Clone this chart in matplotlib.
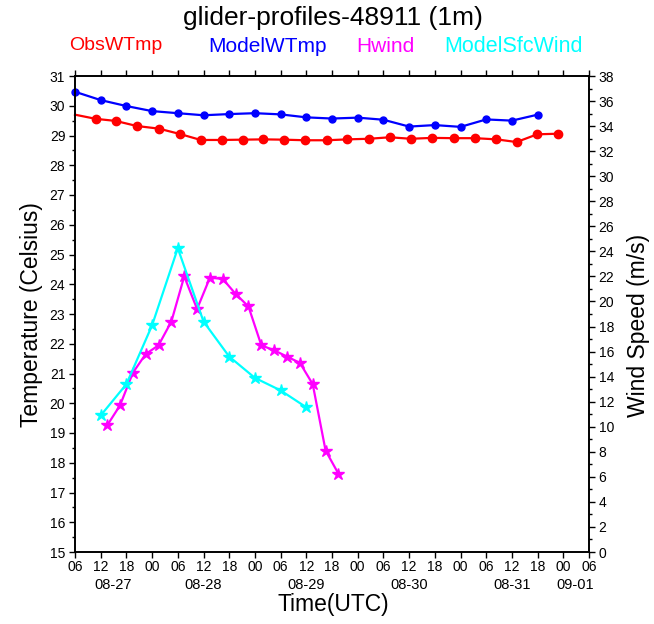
import numpy as np
import matplotlib.pyplot as plt
from matplotlib.transforms import blended_transform_factory

plt.rcParams['font.family'] = ['Liberation Sans', 'DejaVu Sans']

# x in hours since 08-27 06 UTC
obs_hours = [0.0, 4.83, 9.5, 14.4, 19.6, 24.5, 29.35, 34.25, 39.15, 43.95, 48.8, 53.7,
             58.8, 63.6, 68.6, 73.5, 78.4, 83.4, 88.4, 93.4, 98.4, 103.1, 107.9, 112.8]
obs_wtmp = [29.70, 29.56, 29.49, 29.32, 29.23, 29.05, 28.85, 28.85, 28.86, 28.87, 28.86, 28.84,
            28.84, 28.87, 28.89, 28.94, 28.89, 28.92, 28.91, 28.91, 28.87, 28.78, 29.04, 29.06]

model_hours = [0, 6, 12, 18, 24, 30, 36, 42, 48, 54, 60, 66, 72, 78, 84, 90, 96, 102, 108]
model_wtmp = [30.47, 30.19, 29.99, 29.82, 29.75, 29.68, 29.72, 29.75, 29.71, 29.61,
              29.57, 29.60, 29.53, 29.30, 29.35, 29.29, 29.54, 29.50, 29.70]

hwind_hours = [7.5, 10.5, 13.5, 16.5, 19.5, 22.5, 25.5, 28.5, 31.5, 34.5, 37.5, 40.5,
               43.5, 46.5, 49.5, 52.5, 55.5, 58.5, 61.5]
hwind = [10.1, 11.7, 14.3, 15.8, 16.5, 18.4, 22.0, 19.4, 21.9, 21.8, 20.6, 19.6,
         16.5, 16.1, 15.6, 15.1, 13.4, 8.1, 6.25]

sfc_hours = [6, 12, 18, 24, 30, 36, 42, 48, 54]
sfc_wind = [10.9, 13.4, 18.1, 24.25, 18.4, 15.6, 13.9, 12.9, 11.55]

tick_hours = list(range(0, 121, 6))
tick_labels = ['06', '12', '18', '00'] * 5 + ['06']
date_hours = [9, 30, 54, 78, 102, 116.7]
date_labels = ['08-27', '08-28', '08-29', '08-30', '08-31', '09-01']

fig = plt.figure(figsize=(6.54, 6.24), dpi=100)
ax = fig.add_axes([75/654, 72/624, 514/654, 476/624])
ax2 = ax.twinx()

ax.plot(obs_hours, obs_wtmp, color='red', lw=1.6, marker='o', ms=6,
        markevery=range(1, len(obs_hours)), clip_on=False)
ax.plot(model_hours, model_wtmp, color='blue', lw=1.6, marker='o', ms=5, clip_on=False)
ax2.plot(hwind_hours, hwind, color='magenta', lw=1.6, marker='*', ms=9)
ax2.plot(sfc_hours, sfc_wind, color='cyan', lw=1.6, marker='*', ms=9)

ax.set_xlim(0, 120)
ax.set_ylim(15, 31)
ax2.set_ylim(0, 38)
ax.set_xticks(tick_hours)
ax.set_xticklabels(tick_labels)
ax.set_yticks(np.arange(15, 32, 1))
ax.set_yticks(np.arange(15, 31.1, 0.5), minor=True)
ax2.set_yticks(np.arange(0, 39, 2))
ax2.set_yticks(np.arange(0, 39, 1), minor=True)

for a in (ax, ax2):
    a.tick_params(which='major', length=4, width=1, labelsize=10, pad=3)
    a.tick_params(which='minor', length=2.5, width=1)
    for s in a.spines.values():
        s.set_linewidth(1.2)
ax.tick_params(axis='x', top=True, pad=2)

tr = blended_transform_factory(ax.transData, ax.transAxes)
for h, lab in zip(date_hours, date_labels):
    ax.text(h, -0.069, lab, transform=tr, ha='center', va='center', fontsize=10.5)

fig.text(333/654, 1 - 18/624, 'glider-profiles-48911 (1m)', ha='center', va='center', fontsize=19)
legend_items = [('ObsWTmp', 'red', 116, 14), ('ModelWTmp', 'blue', 268, 15),
                ('Hwind', 'magenta', 385, 15), ('ModelSfcWind', 'cyan', 514, 15.5)]
for txt, col, xc, fs in legend_items:
    fig.text(xc/654, 1 - 46/624, txt, color=col, ha='center', va='center', fontsize=fs)

fig.text(333/654, 1 - 605/624, 'Time(UTC)', ha='center', va='center', fontsize=16.5)
fig.text(32/654, 1 - 315/624, 'Temperature (Celsius)', rotation=90, ha='center', va='center', fontsize=16.5)
fig.text(638/654, 1 - 325/624, 'Wind Speed (m/s)', rotation=90, ha='center', va='center', fontsize=16.5)

fig.savefig('out.png', dpi=100)
